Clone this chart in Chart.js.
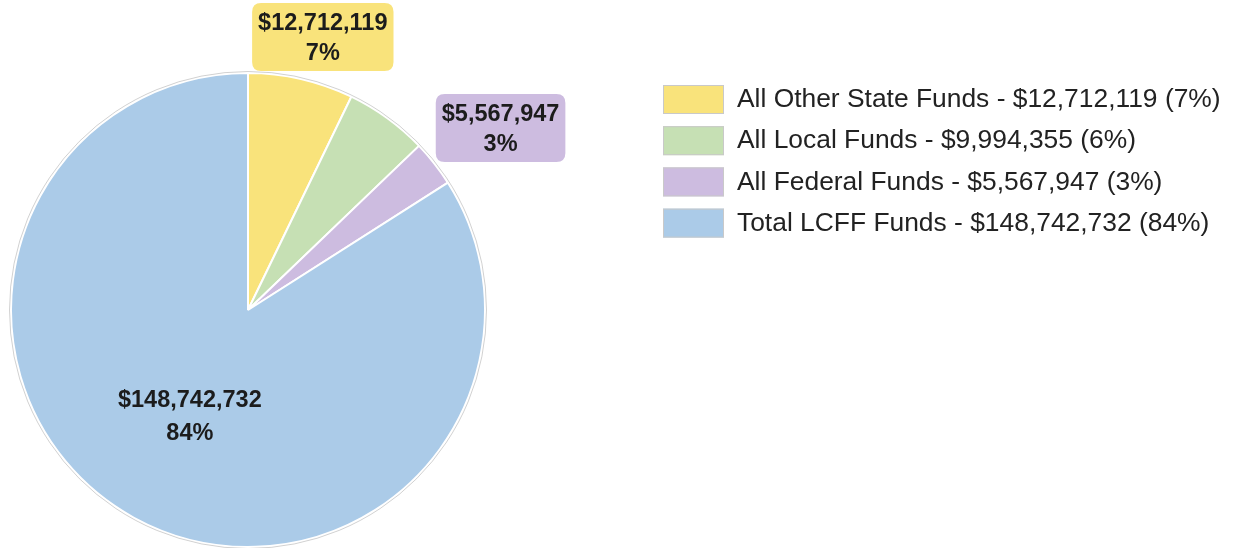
<!DOCTYPE html>
<html lang="en">
<head>
  <meta charset="UTF-8">
  <title>Funding Sources</title>
  <script src="https://cdn.jsdelivr.net/npm/chart.js"></script>
  <style>
    html, body { margin: 0; padding: 0; background: #fff; }
    #fundsChart { display: block; }
  </style>
</head>
<body>
  <canvas id="fundsChart" width="1234" height="548"></canvas>

  <script>
    // Data
    const categories = ['All Other State Funds', 'All Local Funds', 'All Federal Funds', 'Total LCFF Funds'];
    const amounts = [12712119, 9994355, 5567947, 148742732];
    const colors = ['#f9e37b', '#c6e0b4', '#cdbce0', '#abcbe8'];

    const FONT = '"Liberation Sans", Arial, Helvetica, sans-serif';
    const total = amounts.reduce((a, b) => a + b, 0);
    const money = v => '$' + v.toLocaleString('en-US');
    const pct = v => Math.round(v / total * 100) + '%';

    function roundRect(ctx, x, y, w, h, r) {
      ctx.beginPath();
      ctx.moveTo(x + r, y);
      ctx.lineTo(x + w - r, y);
      ctx.quadraticCurveTo(x + w, y, x + w, y + r);
      ctx.lineTo(x + w, y + h - r);
      ctx.quadraticCurveTo(x + w, y + h, x + w - r, y + h);
      ctx.lineTo(x + r, y + h);
      ctx.quadraticCurveTo(x, y + h, x, y + h - r);
      ctx.lineTo(x, y + r);
      ctx.quadraticCurveTo(x, y, x + r, y);
      ctx.closePath();
    }

    function overlaps(a, b) {
      return a.x < b.x + b.w && b.x < a.x + a.w && a.y < b.y + b.h && b.y < a.y + a.h;
    }

    // labels on / next to the slices, small slices get a box outside the pie
    const sliceLabels = {
      id: 'sliceLabels',
      afterDatasetsDraw(chart) {
        const ctx = chart.ctx;
        const arcs = chart.getDatasetMeta(0).data;
        const placed = [];

        // faint outline round the pie
        const a0 = arcs[0];
        ctx.save();
        ctx.beginPath();
        ctx.arc(a0.x, a0.y, a0.outerRadius + 1.5, 0, Math.PI * 2);
        ctx.strokeStyle = 'rgba(0,0,0,0.18)';
        ctx.lineWidth = 1;
        ctx.stroke();
        ctx.restore();

        arcs.forEach((arc, i) => {
          const { x, y, startAngle, endAngle, outerRadius } = arc.getProps(['x', 'y', 'startAngle', 'endAngle', 'outerRadius'], true);
          const line1 = money(amounts[i]);
          const line2 = pct(amounts[i]);

          ctx.save();
          ctx.textAlign = 'center';
          ctx.textBaseline = 'middle';
          ctx.fillStyle = '#1c1c1c';
          ctx.font = 'bold 23.5px ' + FONT;

          if (amounts[i] / total > 0.25) {
            const mid = (startAngle + endAngle) / 2;
            const r = outerRadius * 0.51;
            const cx = x + Math.cos(mid) * r, cy = y + Math.sin(mid) * r;
            ctx.fillText(line1, cx, cy - 15);
            ctx.fillText(line2, cx, cy + 18);
            ctx.restore();
            return;
          }

          // outside boxes sit a touch clockwise of the slice middle
          const mid = (startAngle + endAngle) / 2 + 2.4 * Math.PI / 180;
          const ux = Math.cos(mid), uy = Math.sin(mid);
          const w = Math.max(ctx.measureText(line1).width, ctx.measureText(line2).width) + 12;
          const h = 68;
          // push the box out along the angle until it just touches the circle
          let lo = outerRadius * 0.5, hi = outerRadius * 3;
          for (let k = 0; k < 40; k++) {
            const t = (lo + hi) / 2;
            const cx = x + ux * t, cy = y + uy * t;
            const px = Math.min(Math.max(x, cx - w / 2), cx + w / 2);
            const py = Math.min(Math.max(y, cy - h / 2), cy + h / 2);
            if (Math.hypot(px - x, py - y) < outerRadius + 2) lo = t; else hi = t;
          }
          const cx = x + ux * hi, cy = y + uy * hi;
          const box = { x: cx - w / 2, y: cy - h / 2, w: w, h: h };
          if (placed.some(b => overlaps(b, box))) { ctx.restore(); return; }
          placed.push(box);

          roundRect(ctx, box.x, box.y, w, h, 9);
          ctx.fillStyle = colors[i];
          ctx.fill();
          ctx.fillStyle = '#1c1c1c';
          ctx.fillText(line1, cx, cy - 14);
          ctx.fillText(line2, cx, cy + 16);
          ctx.restore();
        });
      }
    };

    // legend on the right
    const sideLegend = {
      id: 'sideLegend',
      afterDraw(chart) {
        const ctx = chart.ctx;
        ctx.save();
        ctx.font = '26.4px ' + FONT;
        ctx.textBaseline = 'middle';
        categories.forEach((name, i) => {
          const top = 85 + i * 41.2;
          ctx.fillStyle = colors[i];
          ctx.fillRect(663, top, 61, 29);
          ctx.strokeStyle = '#c9c9c9';
          ctx.lineWidth = 1;
          ctx.strokeRect(663.5, top + 0.5, 60, 28);
          ctx.fillStyle = '#222';
          ctx.fillText(name + ' - ' + money(amounts[i]) + ' (' + pct(amounts[i]) + ')', 737, top + 15);
        });
        ctx.restore();
      }
    };

    new Chart(document.getElementById('fundsChart'), {
      type: 'pie',
      data: {
        labels: categories,
        datasets: [{
          data: amounts,
          backgroundColor: colors,
          borderColor: '#ffffff',
          borderWidth: 2
        }]
      },
      options: {
        responsive: false,
        devicePixelRatio: 1,
        animation: false,
        layout: { padding: { left: 10, top: 72, right: 748, bottom: 0 } },
        plugins: {
          legend: { display: false },
          tooltip: { enabled: false }
        }
      },
      plugins: [sliceLabels, sideLegend]
    });
  </script>
</body>
</html>
